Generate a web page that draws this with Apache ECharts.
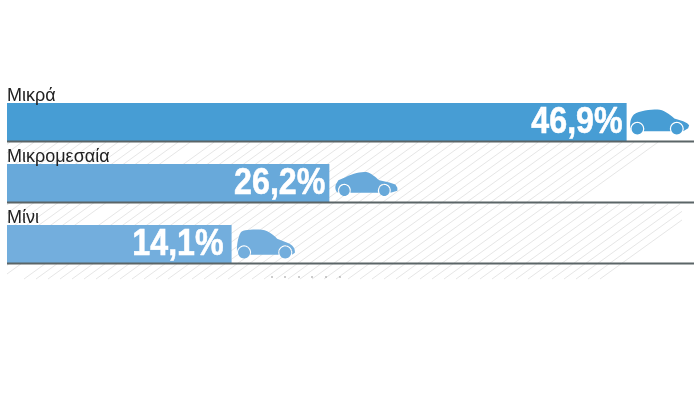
<!DOCTYPE html>
<html>
<head>
<meta charset="utf-8">
<style>
  html, body { margin: 0; padding: 0; background: #fff; }
  #chart { width: 700px; height: 393px; }
</style>
<script src="https://cdn.jsdelivr.net/npm/echarts@6/dist/echarts.min.js"></script>
</head>
<body>
<div id="chart"></div>
<script>
const categories = ['Μικρά', 'Μικρομεσαία', 'Μίνι'];
const valueLabels = ['46,9%', '26,2%', '14,1%'];
// drawn bar lengths: the original infographic is not to scale with its printed percentages
const barLengths = [46.9, 24.4, 17];
const carCentres = [49.4, 27.2, 19.6];
const axisMax = 52;

const barColors = ['#479dd4', '#68a9da', '#73aedd'];
const hatchColor = '#e6e6e6';
const hatchTicks = [272, 285, 299, 312, 326, 340];

// wheels as bezier circles, wound the same way as the car body
const wheels = (a, b, y, r) => [a, b].map(x => {
  const k = r * 0.5523;
  return `M${x - r} ${y}C${x - r} ${y - k} ${x - k} ${y - r} ${x} ${y - r}` +
    `C${x + k} ${y - r} ${x + r} ${y - k} ${x + r} ${y}` +
    `C${x + r} ${y + k} ${x + k} ${y + r} ${x} ${y + r}` +
    `C${x - k} ${y + r} ${x - r} ${y + k} ${x - r} ${y}Z`;
}).join('');

const hatchback = 'path://M1 22C-1 14 1 8 4 5C10 1 20 0 28 0C34 0 40 5 45 9L54 12L58 14L60 16L59 19L54 22A7 7 0 1 0 41 22L14 22A7 7 0 1 0 1 22Z' + wheels(7.5, 47.5, 19.5, 5.8);
const crossover = 'path://M2.9 20C0 19 -1 14 1 11L3 8L10 5C18 1 25 0 31 0C36 1 40 5 44 8L54 10L60 12L62 15L62 18L55.1 20A6.5 6.5 0 1 0 42.9 20L15.1 20A6.5 6.5 0 1 0 2.9 20Z' + wheels(9, 49, 17.7, 5.3);
const mini = 'path://M0.7 25C-0.5 18 1 8 4 3C6 0 14 0 22 0C30 0 36 5 40 9L50 13C55 15 58 18 57.5 23L54.6 25A7 7 0 1 0 41.4 25L13.9 25A7 7 0 1 0 0.7 25Z' + wheels(7.3, 48, 22.7, 5.9);

const carShapes = [
  { symbol: hatchback, symbolSize: [59, 25], symbolOffset: [0, 0] },
  { symbol: crossover, symbolSize: [62, 24], symbolOffset: [0, 1] },
  { symbol: mini, symbolSize: [58, 29], symbolOffset: [0, 0] },
];

// pale diagonal hatching behind the chart
function hatchLines() {
  const lines = [];
  const slope = 0.72;
  for (let x0 = -180; x0 <= 610; x0 += 12) {
    if (x0 > 7 && x0 < 20) continue;
    let y2 = x0 > 473 ? 204 : 142;
    let x2 = x0 + (279 - y2) / slope;
    let x1 = x0, y1 = 279;
    if (x1 < 7) { y1 = 279 - (7 - x1) * slope; x1 = 7; }
    if (x2 > 682) { x2 = 682; y2 = 279 - (x2 - x0) * slope; }
    if (y1 <= y2) continue;
    lines.push({
      type: 'line',
      silent: true,
      shape: { x1, y1, x2, y2 },
      style: { stroke: hatchColor, lineWidth: 1 },
    });
  }
  hatchTicks.forEach(x => lines.push({
    type: 'line',
    silent: true,
    shape: { x1: x, y1: 276, x2: x, y2: 278 },
    style: { stroke: '#9a9a9a', lineWidth: 1 },
  }));
  return lines;
}

const chart = echarts.init(document.getElementById('chart'), null, { renderer: 'canvas' });

chart.setOption({
  backgroundColor: '#fff',
  animation: false,
  textStyle: { fontFamily: '"Liberation Sans", sans-serif' },
  graphic: { elements: hatchLines() },
  grid: { left: 7, right: 6, top: 91.5, height: 183 },
  xAxis: { type: 'value', min: 0, max: axisMax, show: false },
  yAxis: {
    type: 'category',
    data: categories,
    inverse: true,
    axisLine: { show: false },
    axisTick: { show: false },
    axisLabel: {
      inside: true,
      margin: 0,
      align: 'left',
      verticalAlign: 'bottom',
      padding: [0, 0, 17, 0],
      fontSize: 18,
      color: '#222',
    },
    z: 5,
  },
  series: [
    {
      type: 'bar',
      barWidth: 38,
      data: barLengths.map((v, i) => ({
        value: v,
        itemStyle: { color: barColors[i] },
      })),
    },
    {
      // condensed look of the percentages: no narrow face is installed, so squeeze the bold one
      type: 'custom',
      silent: true,
      data: barLengths.map((v, i) => [v, i]),
      renderItem: (params, api) => {
        const i = api.value(1);
        const end = api.coord([api.value(0), i]);
        return {
          type: 'text',
          x: end[0] - (i === 2 ? 8 : 4),
          y: end[1] + 1,
          scaleX: 0.87,
          style: {
            text: valueLabels[i],
            fill: '#fff',
            stroke: '#fff',
            lineWidth: 0.6,
            font: 'bold 37px "Liberation Sans", sans-serif',
            textAlign: 'right',
            textVerticalAlign: 'middle',
          },
        };
      },
      z: 3,
    },
    {
      // dark rule under each row
      type: 'custom',
      silent: true,
      data: categories.map((c, i) => [axisMax, i]),
      renderItem: (params, api) => {
        const start = api.coord([0, api.value(1)]);
        const end = api.coord([api.value(0), api.value(1)]);
        const y = start[1] + 19.5;
        return {
          type: 'line',
          shape: { x1: start[0], y1: y, x2: end[0], y2: y },
          style: { stroke: '#5b6567', lineWidth: 2 },
        };
      },
      z: 3,
    },
    {
      type: 'scatter',
      silent: true,
      data: carCentres.map((x, i) => ({
        value: [x, i],
        ...carShapes[i],
        itemStyle: { color: barColors[i], opacity: 1 },
      })),
      z: 4,
    },
  ],
});
</script>
</body>
</html>
